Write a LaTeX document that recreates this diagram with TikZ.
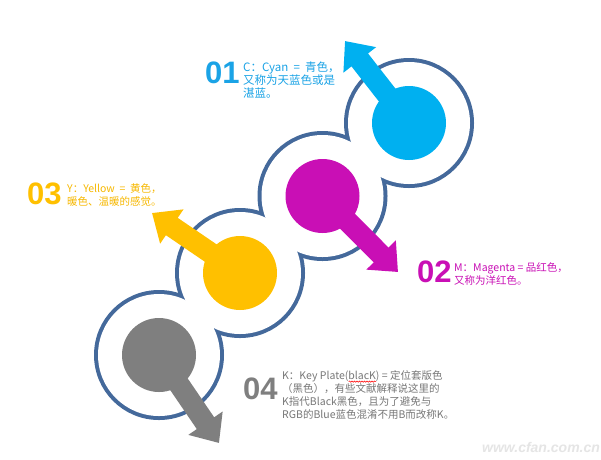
\documentclass[tikz,border=0pt]{standalone}
\usepackage{fontspec}
\setmainfont{Noto Sans CJK SC}
\newfontfamily\numfont{Liberation Sans}
\usetikzlibrary{arrows.meta,decorations.pathmorphing}
\definecolor{cy}{HTML}{00B0F0}
\definecolor{mg}{HTML}{C90FB5}
\definecolor{yl}{HTML}{FFC000}
\definecolor{gy}{HTML}{7F7F7F}
\definecolor{ol}{HTML}{44699B}
\definecolor{cytext}{HTML}{1AA3E6}
\definecolor{yltext}{HTML}{F7B800}
\definecolor{gytext}{HTML}{777777}
\newsavebox\wavebox
\newcommand\redwave[1]{\sbox\wavebox{#1}\rlap{\tikz[baseline=0pt]\draw[red,line width=0.5pt,decorate,decoration={snake,amplitude=0.7pt,segment length=2.5pt}] (0pt,-2.5pt) -- (\the\wd\wavebox,-2.5pt);}\usebox\wavebox}
\tikzset{
  disk/.style={circle, fill=#1, minimum size=74pt, inner sep=0pt},
  shaft/.style={#1, line width=21pt, line cap=butt, -{Triangle[length=24pt,width=40pt]}},
  bignum/.style={anchor=base west, inner sep=0pt, text=#1, font=\numfont\bfseries\fontsize{31}{31}\selectfont},
  body/.style={anchor=north west, inner sep=0pt, align=left, text=#1, font=\fontsize{10.5}{13}\selectfont},
  ring/.style={draw=ol, line width=8pt},
}
\begin{document}
\begin{tikzpicture}[x=1pt,y=-1pt]
\useasboundingbox (0,0) rectangle (601,459);
\fill[white] (0,0) rectangle (601,459);
% centres
\coordinate (pc) at (409,123);
\coordinate (pm) at (322.5,196);
\coordinate (py) at (240,273);
\coordinate (pk) at (159,355);
% union outline
\foreach \p in {pc,pm,py,pk} \draw[ring] (\p) circle (61);
\foreach \p in {pc,pm,py,pk} \fill[white] (\p) circle (61);
% disks
\node[disk=cy] (c1) at (pc) {};
\node[disk=mg] (m2) at (pm) {};
\node[disk=yl] (y3) at (py) {};
\node[disk=gy] (k4) at (pk) {};
% arrow tips
\coordinate (tc) at (345,41);
\coordinate (tm) at (398,272);
\coordinate (ty) at (152,213);
\coordinate (tk) at (219,443);
\draw[shaft=cy] (c1.center) -- (tc);
\draw[shaft=mg] (m2.center) -- (tm);
\draw[shaft=yl] (y3.center) -- (ty);
\draw[shaft=gy] (k4.center) -- (tk);
% labels
\node[bignum=cytext] (n1) at (205,83) {01};
\node[body=cytext, font=\fontsize{11.5}{13}\selectfont] (t1) at (243,62) {C：Cyan\ \ =\ \ 青色，\\又称为天蓝色或是\\湛蓝。};
\node[bignum=yl] (n3) at (27,204) {03};
\node[body=yltext] (t3) at (67,183) {Y：Yellow\ \ =\ \ 黄色，\\暖色、温暖的感觉。};
\node[bignum=mg] (n2) at (417,282) {02};
\node[body=mg] (t2) at (454,262) {M：Magenta = 品红色，\\又称为洋红色。};
\node[bignum=gy] (n4) at (243,399) {04};
\node[body=gytext] (t4) at (282,370) {K：Key Plate(\redwave{blacK}) = 定位套版色\\（黑色），有些文献解释说这里的\\K指代Black黑色，且为了避免与\\RGB的Blue蓝色混淆不用B而改称K。};
\node[anchor=base west, inner sep=0pt, text=black!10, font=\numfont\bfseries\itshape\fontsize{14}{14}\selectfont] (wm) at (482,452) {www.cfan.com.cn};
\end{tikzpicture}
\end{document}
